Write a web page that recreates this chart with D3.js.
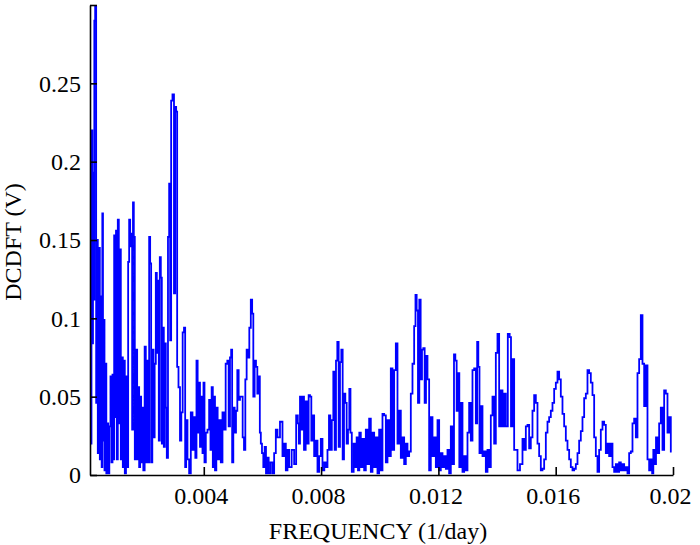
<!DOCTYPE html>
<html>
<head>
<meta charset="utf-8">
<script src="https://cdn.jsdelivr.net/npm/d3@7"></script>
<style>
  body { margin: 0; background: #fff; }
  text { font-family: "Liberation Serif", "Times New Roman", serif; }
</style>
</head>
<body>
<div id="vis"></div>
<script>
const WIDTH = 700;
const HEIGHT = 545;

// frequency range shown on the x axis (1/day)
const X_DOMAIN = [0.00012, 0.02];
const Y_DOMAIN = [0, 0.3];

const xTicks = [0.004, 0.008, 0.012, 0.016, 0.02];
const xTickLabels = ["0.004", "0.008", "0.012", "0.016", "0.02"];
const yTicks = [0, 0.05, 0.1, 0.15, 0.2, 0.25, 0.3];
const yTickLabels = ["0", "0.05", "0.1", "0.15", "0.2", "0.25", ""];

// DCDFT amplitude as [frequency, value]
const spectrum = [
	[0.000153, 0.020], [0.000188, 0.220], [0.000210, 0.084], [0.000233, 0.193], [0.000256, 0.112],
	[0.000279, 0.290], [0.000313, 0.299], [0.000347, 0.046], [0.000369, 0.150], [0.000403, 0.014],
	[0.000438, 0.145], [0.000472, 0.010], [0.000506, 0.114], [0.000529, 0.005], [0.000551, 0.167],
	[0.000574, 0.022], [0.000597, 0.099], [0.000631, 0.003], [0.000665, 0.071], [0.000688, 0.001],
	[0.000722, 0.033], [0.000756, 0.001], [0.000801, 0.031], [0.000835, 0.063], [0.000870, 0.008],
	[0.000904, 0.064], [0.000926, 0.010], [0.000961, 0.153], [0.000995, 0.037], [0.001017, 0.156],
	[0.001051, 0.010], [0.001085, 0.163], [0.001120, 0.033], [0.001154, 0.144], [0.001188, 0.010],
	[0.001222, 0.075], [0.001256, 0.005], [0.001290, 0.073], [0.001324, 0.001], [0.001370, 0.063],
	[0.001404, 0.005], [0.001438, 0.136], [0.001472, 0.163], [0.001506, 0.146], [0.001540, 0.154],
	[0.001574, 0.029], [0.001597, 0.174], [0.001631, 0.152], [0.001665, 0.010], [0.001711, 0.080],
	[0.001745, 0.010], [0.001779, 0.056], [0.001813, 0.005], [0.001847, 0.050], [0.001881, 0.008],
	[0.001915, 0.043], [0.001961, 0.003], [0.002006, 0.082], [0.002040, 0.008], [0.002086, 0.073],
	[0.002120, 0.008], [0.002154, 0.152], [0.002188, 0.135], [0.002222, 0.008], [0.002268, 0.080],
	[0.002302, 0.024], [0.002347, 0.071], [0.002381, 0.129], [0.002415, 0.078], [0.002449, 0.124],
	[0.002483, 0.022], [0.002518, 0.139], [0.002552, 0.126], [0.002586, 0.020], [0.002620, 0.094],
	[0.002654, 0.018], [0.002688, 0.084], [0.002722, 0.043], [0.002756, 0.011], [0.002802, 0.152],
	[0.002836, 0.186], [0.002870, 0.086], [0.002904, 0.239], [0.002961, 0.243], [0.003007, 0.116],
	[0.003041, 0.235], [0.003075, 0.232], [0.003109, 0.069], [0.003166, 0.056], [0.003211, 0.022],
	[0.003257, 0.040], [0.003302, 0.091], [0.003348, 0.094], [0.003382, 0.005], [0.003416, 0.035],
	[0.003472, 0.010], [0.003529, 0.001], [0.003586, 0.040], [0.003643, 0.016], [0.003689, 0.037],
	[0.003734, 0.011], [0.003768, 0.073], [0.003813, 0.027], [0.003848, 0.059], [0.003893, 0.018],
	[0.003939, 0.050], [0.003973, 0.014], [0.004007, 0.059], [0.004041, 0.008], [0.004098, 0.027],
	[0.004154, 0.029], [0.004211, 0.048], [0.004245, 0.016], [0.004291, 0.056], [0.004325, 0.005],
	[0.004359, 0.050], [0.004405, 0.003], [0.004450, 0.043], [0.004495, 0.010], [0.004552, 0.035],
	[0.004609, 0.008], [0.004666, 0.040], [0.004712, 0.029], [0.004780, 0.071], [0.004825, 0.073],
	[0.004871, 0.031], [0.004916, 0.075], [0.004950, 0.080], [0.004984, 0.008], [0.005030, 0.043],
	[0.005075, 0.027], [0.005121, 0.041], [0.005166, 0.067], [0.005212, 0.048], [0.005257, 0.050],
	[0.005303, 0.050], [0.005348, 0.024], [0.005394, 0.016], [0.005439, 0.061], [0.005484, 0.080],
	[0.005530, 0.075], [0.005575, 0.094], [0.005632, 0.112], [0.005666, 0.103], [0.005712, 0.050],
	[0.005757, 0.073], [0.005803, 0.069], [0.005848, 0.052], [0.005894, 0.063], [0.005928, 0.027],
	[0.005962, 0.020], [0.006007, 0.014], [0.006053, 0.005], [0.006098, 0.018], [0.006144, 0.001],
	[0.006189, 0.011], [0.006235, 0.001], [0.006314, 0.008], [0.006371, 0.001], [0.006428, 0.014],
	[0.006485, 0.029], [0.006541, 0.024], [0.006655, 0.034], [0.006712, 0.012], [0.006769, 0.020],
	[0.006826, 0.003], [0.006882, 0.016], [0.006939, 0.005], [0.007053, 0.016], [0.007110, 0.007],
	[0.007189, 0.038], [0.007223, 0.033], [0.007258, 0.020], [0.007303, 0.050], [0.007349, 0.029],
	[0.007394, 0.050], [0.007440, 0.016], [0.007508, 0.047], [0.007553, 0.020], [0.007599, 0.051],
	[0.007644, 0.050], [0.007690, 0.022], [0.007735, 0.038], [0.007792, 0.012], [0.007849, 0.022],
	[0.007906, 0.002], [0.007962, 0.012], [0.008019, 0.023], [0.008076, 0.003], [0.008144, 0.008],
	[0.008190, 0.005], [0.008246, 0.016], [0.008292, 0.038], [0.008337, 0.016], [0.008394, 0.035],
	[0.008440, 0.066], [0.008485, 0.016], [0.008531, 0.073], [0.008576, 0.085], [0.008622, 0.018],
	[0.008667, 0.072], [0.008713, 0.080], [0.008758, 0.010], [0.008804, 0.052], [0.008849, 0.046],
	[0.008894, 0.020], [0.008940, 0.029], [0.008985, 0.055], [0.009019, 0.027], [0.009076, 0.002],
	[0.009145, 0.020], [0.009190, 0.005], [0.009235, 0.024], [0.009281, 0.003], [0.009326, 0.027],
	[0.009383, 0.005], [0.009440, 0.023], [0.009497, 0.003], [0.009554, 0.029], [0.009610, 0.007],
	[0.009667, 0.036], [0.009724, 0.002], [0.009781, 0.027], [0.009838, 0.005], [0.009895, 0.024],
	[0.009951, 0.001], [0.010008, 0.029], [0.010065, 0.003], [0.010122, 0.039], [0.010179, 0.038],
	[0.010236, 0.008], [0.010292, 0.035], [0.010349, 0.012], [0.010406, 0.068], [0.010463, 0.016],
	[0.010520, 0.067], [0.010577, 0.084], [0.010633, 0.020], [0.010690, 0.041], [0.010747, 0.011],
	[0.010804, 0.024], [0.010861, 0.007], [0.010918, 0.020], [0.010974, 0.012], [0.011031, 0.015],
	[0.011088, 0.052], [0.011145, 0.071], [0.011202, 0.095], [0.011236, 0.115], [0.011281, 0.105],
	[0.011327, 0.046], [0.011372, 0.112], [0.011418, 0.061], [0.011463, 0.080], [0.011509, 0.081],
	[0.011554, 0.046], [0.011600, 0.076], [0.011656, 0.061], [0.011713, 0.003], [0.011770, 0.037],
	[0.011827, 0.012], [0.011884, 0.024], [0.011941, 0.005], [0.011998, 0.035], [0.012054, 0.003],
	[0.012111, 0.014], [0.012168, 0.005], [0.012225, 0.012], [0.012282, 0.004], [0.012338, 0.016],
	[0.012395, 0.001], [0.012452, 0.031], [0.012509, 0.007], [0.012555, 0.077], [0.012600, 0.073],
	[0.012645, 0.041], [0.012691, 0.065], [0.012736, 0.005], [0.012793, 0.046], [0.012850, 0.002],
	[0.012907, 0.012], [0.012964, 0.003], [0.013020, 0.027], [0.013077, 0.046], [0.013134, 0.022],
	[0.013191, 0.067], [0.013248, 0.068], [0.013305, 0.033], [0.013339, 0.085], [0.013384, 0.069],
	[0.013418, 0.014], [0.013475, 0.044], [0.013532, 0.012], [0.013589, 0.015], [0.013646, 0.002],
	[0.013702, 0.016], [0.013759, 0.005], [0.013816, 0.038], [0.013873, 0.050], [0.013930, 0.020],
	[0.013987, 0.078], [0.014043, 0.090], [0.014100, 0.031], [0.014157, 0.054], [0.014214, 0.031],
	[0.014271, 0.052], [0.014327, 0.031], [0.014407, 0.090], [0.014453, 0.088], [0.014498, 0.031],
	[0.014555, 0.074], [0.014612, 0.016], [0.014669, 0.016], [0.014725, 0.003], [0.014839, 0.007],
	[0.014896, 0.023], [0.014953, 0.016], [0.015010, 0.031], [0.015066, 0.032], [0.015123, 0.017],
	[0.015180, 0.024], [0.015237, 0.041], [0.015294, 0.051], [0.015351, 0.046], [0.015407, 0.020],
	[0.015464, 0.012], [0.015521, 0.003], [0.015578, 0.004], [0.015635, 0.010], [0.015692, 0.027],
	[0.015748, 0.034], [0.015805, 0.037], [0.015862, 0.041], [0.015919, 0.046], [0.015976, 0.055],
	[0.016033, 0.059], [0.016089, 0.066], [0.016146, 0.061], [0.016203, 0.050], [0.016260, 0.039],
	[0.016317, 0.031], [0.016374, 0.022], [0.016430, 0.016], [0.016487, 0.010], [0.016544, 0.005],
	[0.016601, 0.003], [0.016658, 0.004], [0.016715, 0.007], [0.016771, 0.014], [0.016828, 0.022],
	[0.016885, 0.028], [0.016942, 0.037], [0.016999, 0.049], [0.017056, 0.052], [0.017112, 0.067],
	[0.017169, 0.065], [0.017226, 0.059], [0.017283, 0.051], [0.017340, 0.024], [0.017397, 0.012],
	[0.017453, 0.002], [0.017510, 0.016], [0.017567, 0.029], [0.017624, 0.034], [0.017681, 0.032],
	[0.017738, 0.014], [0.017794, 0.020], [0.017851, 0.012], [0.017908, 0.020], [0.017965, 0.005],
	[0.018022, 0.002], [0.018079, 0.007], [0.018135, 0.002], [0.018192, 0.008], [0.018249, 0.003],
	[0.018306, 0.007], [0.018363, 0.003], [0.018420, 0.005], [0.018476, 0.001], [0.018533, 0.014],
	[0.018590, 0.015], [0.018647, 0.033], [0.018704, 0.036], [0.018761, 0.024], [0.018817, 0.065],
	[0.018874, 0.074], [0.018931, 0.102], [0.018988, 0.071], [0.019045, 0.044], [0.019102, 0.070],
	[0.019158, 0.010], [0.019215, 0.003], [0.019272, 0.010], [0.019306, 0.001], [0.019352, 0.016],
	[0.019397, 0.007], [0.019443, 0.024], [0.019499, 0.014], [0.019556, 0.033], [0.019613, 0.043],
	[0.019670, 0.016], [0.019727, 0.054], [0.019784, 0.052], [0.019840, 0.027], [0.019897, 0.037],
	[0.019954, 0.015]
];

const margin = { top: 5, right: 27, bottom: 70, left: 90 };

const svg = d3.select("#vis")
	.append("svg")
	.attr("width", WIDTH)
	.attr("height", HEIGHT);

const x = d3.scaleLinear()
	.domain(X_DOMAIN)
	.range([margin.left, WIDTH - margin.right]);

const y = d3.scaleLinear()
	.domain(Y_DOMAIN)
	.range([HEIGHT - margin.bottom, margin.top]);

// the trace, drawn as steps like the original plotting program does
const line = d3.line()
	.curve(d3.curveStep)
	.x(d => x(d[0]))
	.y(d => y(d[1]));

svg.append("path")
	.datum(spectrum)
	.attr("fill", "none")
	.attr("stroke", "#0000ff")
	.attr("stroke-width", 1.8)
	.attr("d", line);

// bottom axis, ticks pointing inwards
const xAxis = svg.append("g")
	.attr("transform", `translate(0,${HEIGHT - margin.bottom})`)
	.call(d3.axisBottom(x)
		.tickValues(xTicks)
		.tickSizeInner(-8)
		.tickSizeOuter(0)
		.tickPadding(12)
		.tickFormat((d, i) => xTickLabels[i]));

// left axis, ticks pointing inwards
const yAxis = svg.append("g")
	.attr("transform", `translate(${margin.left},0)`)
	.call(d3.axisLeft(y)
		.tickValues(yTicks)
		.tickSizeInner(-7)
		.tickSizeOuter(0)
		.tickPadding(9)
		.tickFormat((d, i) => yTickLabels[i]));

[xAxis, yAxis].forEach(g => {
	g.select(".domain").attr("stroke", "#000").attr("stroke-width", 1.6);
	g.selectAll(".tick line").attr("stroke", "#000").attr("stroke-width", 1.6);
	g.selectAll(".tick text")
		.attr("fill", "#000")
		.style("font-size", "24px")
		.style("font-family", "'Liberation Serif', 'Times New Roman', serif");
});

xAxis.selectAll(".tick text").attr("dy", "0.71em").attr("dx", -3);

// axis titles
svg.append("text")
	.attr("x", 378)
	.attr("y", 539)
	.attr("text-anchor", "middle")
	.style("font-size", "24px")
	.text("FREQUENCY (1/day)");

svg.append("text")
	.attr("transform", "translate(21,242) rotate(-90)")
	.attr("text-anchor", "middle")
	.style("font-size", "24px")
	.text("DCDFT (V)");
</script>
</body>
</html>
